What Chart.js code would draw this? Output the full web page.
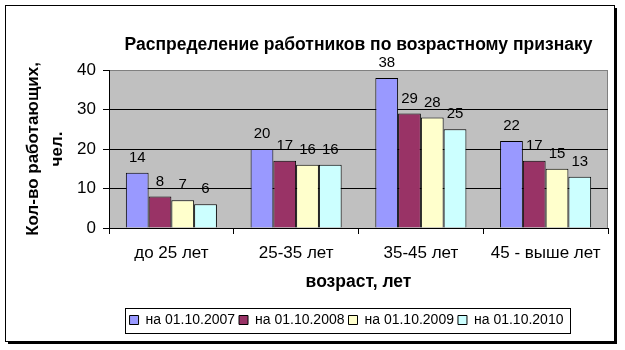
<!DOCTYPE html>
<html>
<head>
<meta charset="utf-8">
<script src="https://cdn.jsdelivr.net/npm/chart.js@4.4.1/dist/chart.umd.min.js"></script>
<style>
  body { margin: 0; background: #fff; }
  canvas { display: block; }
</style>
</head>
<body>
<canvas id="ageChart" width="625" height="350"></canvas>
<script>
// Age groups and headcount per reporting date
const categories = ['до 25 лет', '25-35 лет', '35-45 лет', '45 - выше лет'];
const dates = ['на 01.10.2007', 'на 01.10.2008', 'на 01.10.2009', 'на 01.10.2010'];
const on2007 = [14, 20, 38, 22];
const on2008 = [8, 17, 29, 17];
const on2009 = [7, 16, 28, 15];
const on2010 = [6, 16, 25, 13];
const yTicks = [0, 10, 20, 30, 40];

const colors = ['#9999FF', '#993366', '#FFFFCC', '#CCFFFF'];
const FONT = "'Liberation Sans', Arial, sans-serif";

// Outer frame with a shadow, grey plot background, legend box
const framePlugin = {
    id: 'frame',
    afterLayout(chart) {
        // legend sits a little left of the plot centre
        chart.legend.left -= 12;
        chart.legend.right -= 12;
    },
    beforeDraw(chart) {
        const ctx = chart.ctx;
        const a = chart.chartArea;
        ctx.save();
        ctx.fillStyle = '#fff';
        ctx.fillRect(0, 0, chart.width, chart.height);
        ctx.fillStyle = '#000';
        ctx.fillRect(8, 8, 609, 336);
        ctx.fillStyle = '#fff';
        ctx.fillRect(5, 5, 610, 337);
        ctx.strokeStyle = '#000';
        ctx.lineWidth = 1;
        ctx.strokeRect(5.5, 5.5, 609, 336);

        ctx.fillStyle = '#C0C0C0';
        ctx.fillRect(a.left, a.top, a.right - a.left, a.bottom - a.top);
        ctx.strokeStyle = '#808080';
        ctx.beginPath();
        ctx.moveTo(a.left, a.top + 0.5);
        ctx.lineTo(a.right - 0.5, a.top + 0.5);
        ctx.lineTo(a.right - 0.5, a.bottom);
        ctx.stroke();
        ctx.restore();
    },
    afterDraw(chart) {
        const lg = chart.legend;
        const boxes = lg.legendHitBoxes;
        if (!boxes || !boxes.length) return;
        const left = Math.min(...boxes.map(b => b.left)) - 5;
        const right = Math.max(...boxes.map(b => b.left + b.width)) + 6;
        const ctx = chart.ctx;
        ctx.save();
        ctx.strokeStyle = '#000';
        ctx.lineWidth = 1;
        ctx.strokeRect(Math.round(left) + 0.5, Math.round(lg.top - 1) + 0.5,
            Math.round(right - left), 25);
        ctx.restore();
    }
};

// Value above each bar
const valueLabels = {
    id: 'valueLabels',
    afterDatasetsDraw(chart) {
        const ctx = chart.ctx;
        ctx.save();
        ctx.font = '15px ' + FONT;
        ctx.fillStyle = '#000';
        ctx.textAlign = 'center';
        ctx.textBaseline = 'middle';
        chart.data.datasets.forEach((ds, i) => {
            chart.getDatasetMeta(i).data.forEach((bar, j) => {
                ctx.fillText(String(ds.data[j]), bar.x, bar.y - 15);
            });
        });
        ctx.restore();
    }
};

const seriesData = [on2007, on2008, on2009, on2010];

new Chart(document.getElementById('ageChart'), {
    type: 'bar',
    data: {
        labels: categories,
        datasets: dates.map((d, i) => ({
            label: d,
            data: seriesData[i],
            backgroundColor: colors[i],
            borderColor: '#000',
            borderWidth: 1,
            categoryPercentage: 0.73,
            barPercentage: 1
        }))
    },
    options: {
        responsive: false,
        animation: false,
        layout: { padding: { top: 10, left: 10, right: 17, bottom: 13 } },
        plugins: {
            title: {
                display: true,
                fullSize: false,
                text: 'Распределение работников по возрастному признаку',
                color: '#000',
                font: { family: FONT, size: 17.5, weight: 'bold' },
                padding: { top: 24.5, bottom: 14.5 }
            },
            legend: {
                position: 'bottom',
                fullSize: false,
                labels: {
                    color: '#000',
                    font: { family: FONT, size: 14 },
                    boxWidth: 9,
                    boxHeight: 9,
                    padding: 4,
                    generateLabels(chart) {
                        return chart.data.datasets.map((ds, i) => ({
                            text: ds.label,
                            fillStyle: ds.backgroundColor,
                            strokeStyle: '#000',
                            lineWidth: 1,
                            fontColor: '#000',
                            datasetIndex: i
                        }));
                    }
                }
            },
            tooltip: { enabled: false }
        },
        scales: {
            x: {
                afterFit(scale) { scale.height = 81; },
                border: { color: '#000', width: 1 },
                grid: {
                    offset: true,
                    drawOnChartArea: false,
                    color: '#000',
                    tickLength: 6
                },
                ticks: {
                    color: '#000',
                    padding: 9,
                    maxRotation: 0,
                    font: { family: FONT, size: 17 }
                },
                title: {
                    display: true,
                    text: 'возраст, лет',
                    color: '#000',
                    font: { family: FONT, size: 17.5, weight: 'bold' },
                    padding: { top: 0, bottom: 16.5 }
                }
            },
            y: {
                min: 0,
                max: 40,
                afterFit(scale) { scale.width = 99; },
                afterBuildTicks(scale) { scale.ticks = yTicks.map(v => ({ value: v })); },
                border: { color: '#000', width: 1 },
                grid: {
                    color: ctx => (ctx.tick && ctx.tick.value === 40 ? '#808080' : '#000'),
                    tickColor: '#000',
                    tickLength: 6
                },
                ticks: {
                    color: '#000',
                    padding: 7,
                    font: { family: FONT, size: 17 }
                },
                title: {
                    display: true,
                    text: ['Кол-во работающих,', 'чел.'],
                    color: '#000',
                    font: { family: FONT, size: 17, weight: 'bold', lineHeight: 1.41 },
                    padding: { top: 11, bottom: 0 }
                }
            }
        }
    },
    plugins: [framePlugin, valueLabels]
});
</script>
</body>
</html>
